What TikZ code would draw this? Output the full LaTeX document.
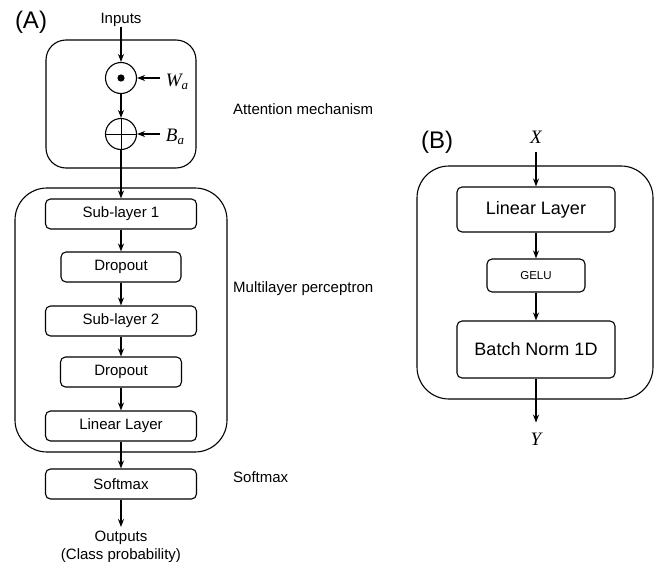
\documentclass[tikz,border=0pt]{standalone}
\usepackage{fontspec}
\setmainfont{Liberation Sans}
\newfontfamily\seriffont{Liberation Serif}
\usetikzlibrary{arrows.meta}
\newcommand{\vlab}[2]{{\seriffont\itshape #1\raisebox{-0.35ex}{\fontsize{13}{13}\selectfont #2}}}
\tikzset{
  conn/.style={-{Stealth[length=8pt,width=6pt]}, line width=1.3pt},
  blk/.style={draw, rounded corners=5pt, line width=1.1pt, inner sep=0pt, font=\fontsize{15}{18}\selectfont},
  outer/.style={draw, rounded corners=#1, line width=1.1pt, inner sep=0pt},
  lbl/.style={font=\fontsize{15}{18}\selectfont, inner sep=0pt},
  big/.style={font=\fontsize{24}{28}\selectfont, inner sep=0pt},
  op/.style={draw, circle, line width=1.1pt, minimum size=31pt, inner sep=0pt},
}
\begin{document}
\begin{tikzpicture}[x=1pt,y=-1pt]
\useasboundingbox (0,0) rectangle (656,562);
% ---------- Panel A ----------
\node[big] (labA) at (31,22) {(A)};
\node[lbl] (inputs) at (121,20) {Inputs};
\node[outer=20pt, minimum width=150pt, minimum height=128pt] (att) at (121,104) {};
\node[outer=32pt, minimum width=212pt, minimum height=264pt] (mlp) at (121,320) {};
\node[op] (dot) at (121,78) {};
\fill (dot.center) circle (3.6pt);
\node[op] (plus) at (121,134) {};
\draw[line width=0.9pt] (plus.west) -- (plus.east) (plus.north) -- (plus.south);
\node[inner sep=0pt] (wa) at (177,82) {\fontsize{19}{20}\selectfont\vlab{W}{a}};
\node[inner sep=0pt] (ba) at (175,137) {\fontsize{19}{20}\selectfont\vlab{B}{a}};
\coordinate (waS) at (160,78);
\coordinate (baS) at (160,134);
\draw[conn] (waS) -- (dot.east);
\draw[conn] (baS) -- (plus.east);
\node[blk, minimum width=151pt, minimum height=30pt] (sub1) at (121,214) {Sub-layer 1};
\node[blk, minimum width=120pt, minimum height=30pt] (drop1) at (121,267) {Dropout};
\node[blk, minimum width=151pt, minimum height=30pt] (sub2) at (121,321) {Sub-layer 2};
\node[blk, minimum width=121pt, minimum height=30pt] (drop2) at (121,372) {Dropout};
\node[blk, minimum width=151pt, minimum height=30pt] (lin) at (121,426) {Linear Layer};
\node[blk, minimum width=151pt, minimum height=30pt] (soft) at (121,484) {Softmax};
\node[lbl, align=center] (out) at (121,547) {Outputs\\(Class probability)};
\draw[conn] (inputs.south) -- (dot.north);
\draw[conn] (dot.south) -- (plus.north);
\draw[conn] (plus.south) -- (sub1.north);
\draw[conn] (sub1) -- (drop1);
\draw[conn] (drop1) -- (sub2);
\draw[conn] (sub2) -- (drop2);
\draw[conn] (drop2) -- (lin);
\draw[conn] (lin) -- (soft);
\draw[conn] (soft.south) -- ([yshift=4pt]out.north);
\node[lbl, anchor=west] (attl) at (233,109) {Attention mechanism};
\node[lbl, anchor=west] (mlpl) at (233,289) {Multilayer perceptron};
\node[lbl, anchor=west] (softl) at (233,477) {Softmax};
% ---------- Panel B ----------
\node[big] (labB) at (437,142) {(B)};
\node[inner sep=0pt] (X) at (536,137) {\fontsize{19}{20}\selectfont\seriffont\itshape X};
\node[outer=32pt, minimum width=236pt, minimum height=233pt] (bbox) at (535,282.5) {};
\node[blk, minimum width=158pt, minimum height=45pt, font=\fontsize{18}{21}\selectfont] (linB) at (536,209.5) {Linear Layer};
\node[blk, minimum width=98pt, minimum height=33pt, font=\fontsize{11.5}{14}\selectfont] (gelu) at (536,275.5) {GELU};
\node[blk, minimum width=158pt, minimum height=57pt, font=\fontsize{18}{21}\selectfont] (bn) at (536,349.5) {Batch Norm 1D};
\node[inner sep=0pt] (Y) at (536,439) {\fontsize{19}{20}\selectfont\seriffont\itshape Y};
\draw[conn] ([yshift=-9pt]X.south) -- (linB.north);
\draw[conn] (linB) -- (gelu);
\draw[conn] (gelu) -- (bn);
\draw[conn] (bn.south) -- ([yshift=10pt]Y.north);
\end{tikzpicture}
\end{document}
